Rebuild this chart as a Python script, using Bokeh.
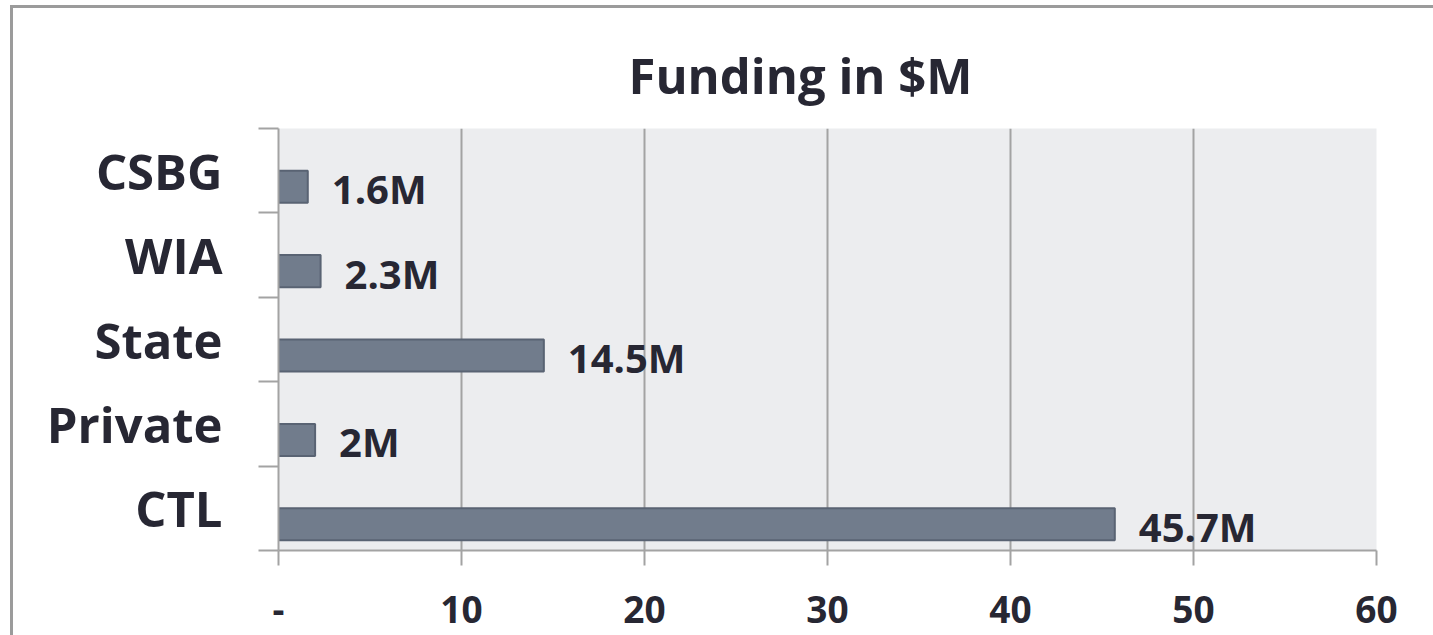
from bokeh.plotting import figure
from bokeh.models import FixedTicker, Range1d, ColumnDataSource
from bokeh.core.properties import value
from bokeh.embed import file_html
from bokeh.resources import INLINE

categories = ["CSBG", "WIA", "State", "Private", "CTL"]
values = [1.6, 2.3, 14.5, 2.0, 45.7]
x_ticks = [0, 10, 20, 30, 40, 50, 60]
x_tick_labels = ["-", "10", "20", "30", "40", "50", "60"]

FONT = "Open Sans"
TXT = "#272733"
GRID = "#a3a3a3"

n = len(categories)
centers = {c: n - 1 - i + 0.5 for i, c in enumerate(categories)}
bar_shift = -0.19
bar_h = 0.38

src = ColumnDataSource(dict(
    cat=categories,
    val=values,
    y=[centers[c] + bar_shift for c in categories],
    label=[f"{v:g}M" for v in values],
))

p = figure(width=1420, height=627, frame_width=1098, frame_height=422,
           output_backend="svg", toolbar_location=None,
           x_range=Range1d(0, 60), y_range=Range1d(0, n),
           min_border_left=265, min_border_right=57, min_border_top=120,
           min_border_bottom=85)
p.styles = {"margin-left": "10px", "margin-top": "5px",
            "border-left": "3px solid #9b9b9b", "border-top": "3px solid #9b9b9b"}

p.title.text = "Funding in $M"
p.title.text_font = FONT
p.title.text_font_size = "49px"
p.title.text_font_style = "bold"
p.title.text_color = TXT
p.title.align = "left"
p.title.offset = 350
p.title.standoff = 42

p.background_fill_color = "#ecedef"
p.border_fill_color = "white"
p.outline_line_color = None

p.hbar(y="y", right="val", left=0, height=bar_h, source=src,
       fill_color="#717c8c", line_color="#596373", line_width=2)

p.text(x="val", y="y", text="label", source=src, x_offset=24, y_offset=2,
       text_baseline="middle", text_align="left", text_font=value(FONT),
       text_font_size="40px", text_font_style="bold", text_color=TXT)

xa = p.xaxis[0]
xa.ticker = FixedTicker(ticks=x_ticks)
xa.major_label_overrides = {t: l for t, l in zip(x_ticks, x_tick_labels)}
xa.major_label_text_font = FONT
xa.major_label_text_font_size = "37px"
xa.major_label_text_font_style = "bold"
xa.major_label_text_color = TXT
xa.major_tick_in = 0
xa.major_tick_out = 15
xa.major_tick_line_color = GRID
xa.major_tick_line_width = 2
xa.minor_tick_line_color = None
xa.axis_line_color = GRID
xa.axis_line_width = 2
xa.major_label_standoff = 30

ya = p.yaxis[0]
ya.ticker = FixedTicker(ticks=[centers[c] for c in categories],
                        minor_ticks=list(range(n + 1)))
ya.major_label_overrides = {centers[c]: c for c in categories}
ya.major_label_text_font = FONT
ya.major_label_text_font_size = "49px"
ya.major_label_text_font_style = "bold"
ya.major_label_text_color = TXT
ya.major_tick_line_color = None
ya.major_tick_in = 0
ya.major_tick_out = 0
ya.minor_tick_in = 0
ya.minor_tick_out = 20
ya.minor_tick_line_color = GRID
ya.minor_tick_line_width = 2
ya.axis_line_color = GRID
ya.axis_line_width = 2
ya.major_label_standoff = 36

p.xgrid.grid_line_color = GRID
p.xgrid.grid_line_width = 2
p.ygrid.grid_line_color = None

open("out.html", "w").write(file_html(p, INLINE))
